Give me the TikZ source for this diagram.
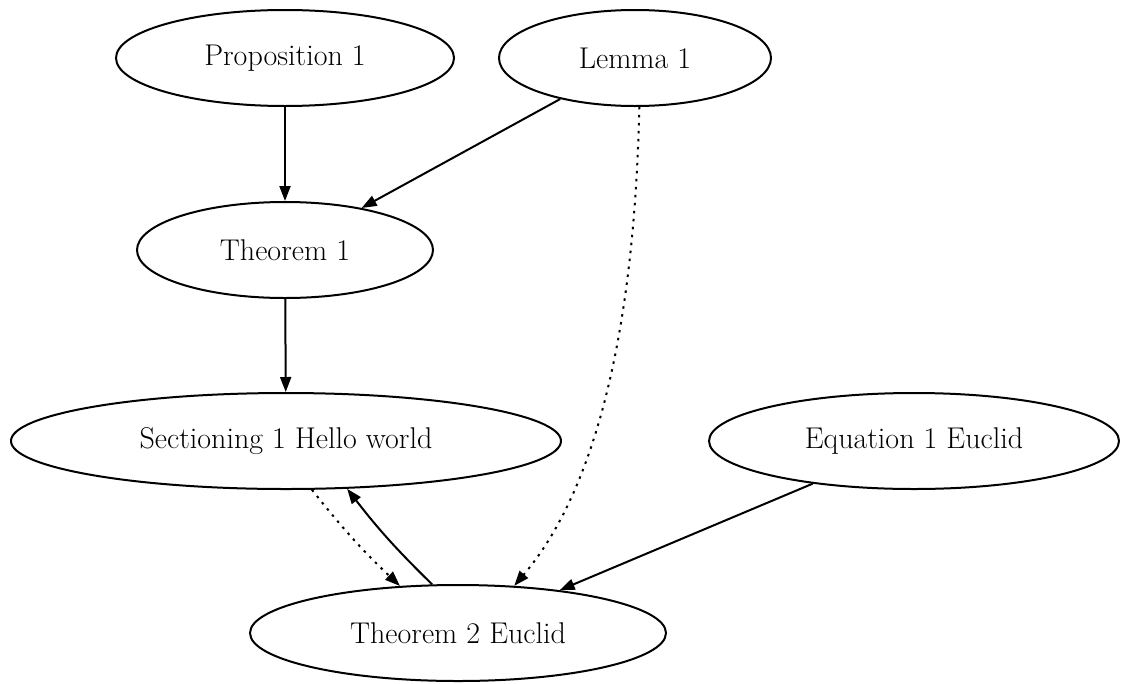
\documentclass[tikz,border=0pt]{standalone}
\usetikzlibrary{shapes.geometric,arrows.meta}
\begin{document}
\begin{tikzpicture}[x=1pt, y=-1pt, font=\fontsize{30}{36}\selectfont,
	oval/.style={draw, ellipse, line width=2pt, inner sep=0pt, minimum height=96pt},
	edge/.style={line width=2pt, -{Triangle[length=15pt,width=11pt]}},
	dots/.style={edge, dash pattern=on 2.5pt off 5.5pt}]
	\useasboundingbox (0,0) rectangle (1123,683);
	%nodes
	\node[oval, minimum width=338pt] (prop) at (285,58) {Proposition 1};
	\node[oval, minimum width=272pt] (lemma) at (635,58) {Lemma 1};
	\node[oval, minimum width=296pt] (thmone) at (285,250) {Theorem 1};
	\node[oval, minimum width=550pt] (sect) at (286,441) {Sectioning 1 Hello world};
	\node[oval, minimum width=410pt] (eqn) at (914,441) {Equation 1 Euclid};
	\node[oval, minimum width=416pt] (thmtwo) at (458,633) {Theorem 2 Euclid};
	%edges
	\draw[edge] (prop) -- (thmone);
	\draw[edge] (lemma) -- (thmone);
	\draw[edge] (thmone) -- (sect);
	\draw[edge] (eqn) -- (thmtwo);
	\draw[dots] (sect.-62) to[bend right=4] (thmtwo.141);
	\draw[edge] (thmtwo.118) to[bend left=4] (sect.-38);
	\draw[dots] (lemma.-85) .. controls (633,400) and (570,520) .. (thmtwo.40);
\end{tikzpicture}
\end{document}
